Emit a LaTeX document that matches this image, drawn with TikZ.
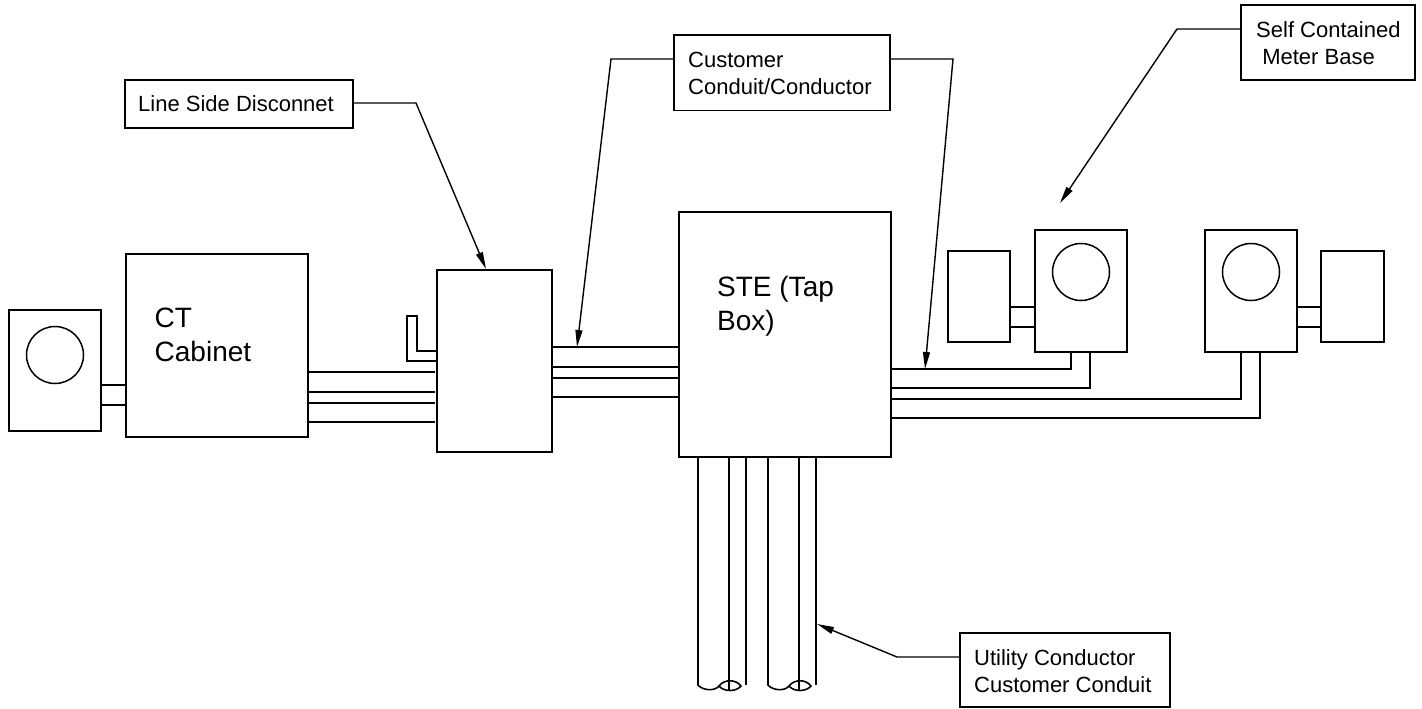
\documentclass[tikz,border=0pt]{standalone}
\usepackage{fontspec}
\setmainfont{Liberation Sans}
\usetikzlibrary{arrows.meta}
\tikzset{
  bx/.style 2 args={draw,line width=1.6pt,rectangle,minimum width=#1,minimum height=#2,inner sep=0pt,outer sep=0pt},
  dial/.style={draw,line width=1.5pt,circle,minimum size=57pt,inner sep=0pt,outer sep=0pt},
  wire/.style={line width=1.6pt},
  leader/.style={line width=1.4pt,-{Triangle[length=17pt,width=7pt]}},
  lbl/.style={font=\fontsize{22}{27}\selectfont,align=left,anchor=west,inner sep=0pt},
  big/.style={font=\fontsize{28}{34}\selectfont,align=left,anchor=west,inner sep=0pt}
}
\begin{document}
\begin{tikzpicture}[x=1pt,y=-1pt]
\useasboundingbox (0,0) rectangle (1422,709);
% main boxes
\node[bx={92pt}{121pt}] (mL) at (55,370.5) {};
\node[dial] (cL) at (55,355) {};
\node[bx={182pt}{183pt}] (ct) at (217,345.5) {};
\node[bx={115pt}{182pt}] (dis) at (494.5,361) {};
\node[bx={212pt}{245pt}] (ste) at (785,334.5) {};
\node[bx={62pt}{91pt}] (bA) at (979,296.5) {};
\node[bx={92pt}{122pt}] (mA) at (1081,291) {};
\node[dial] (cA) at (1081,272) {};
\node[bx={92pt}{122pt}] (mB) at (1251,291) {};
\node[dial] (cB) at (1251,272) {};
\node[bx={63pt}{91pt}] (bB) at (1352.5,296.5) {};
% labels in boxes
\node[big] (tct) at (154.5,335) {CT\\Cabinet};
\node[big] (tste) at (717,306) {STE (Tap\\Box)};
% callout boxes
\node[bx={228pt}{48pt}] (c1) at (239,104) {};
\node[lbl] (t1) at (138,104) {Line Side Disconnet};
\node[bx={216pt}{75.5pt}] (c2) at (782,72.75) {};
\node[lbl] (t2) at (688,73) {Customer\\Conduit/Conductor};
\node[bx={174pt}{75pt}] (c3) at (1328,42.5) {};
\node[lbl] (t3) at (1256,43) {Self Contained\\\ Meter Base};
\node[bx={210pt}{74pt}] (c4) at (1065,670) {};
\node[lbl] (t4) at (974,671) {Utility Conductor\\Customer Conduit};
% short links
\foreach \y in {385,405} \draw[wire] (mL.east |- 0,\y) -- (ct.west |- 0,\y);
\foreach \y in {307,327} {\draw[wire] (bA.east |- 0,\y) -- (mA.west |- 0,\y);
  \draw[wire] (mB.east |- 0,\y) -- (bB.west |- 0,\y);}
% CT to disconnect (stop short of the box)
\foreach \y in {372,392,403,422} \draw[wire] (ct.east |- 0,\y) -- (435,\y);
% L shape
\draw[wire] (dis.west |- 0,351) -- (417,351) -- (417,316) -- (407,316) -- (407,361) -- (dis.west |- 0,361);
% disconnect to STE
\foreach \y in {347,367,378,397} \draw[wire] (dis.east |- 0,\y) -- (ste.west |- 0,\y);
% STE to meters
\draw[wire] (ste.east |- 0,369) -| (mA.south -| 1071,0);
\draw[wire] (ste.east |- 0,388) -| (mA.south -| 1090,0);
\draw[wire] (ste.east |- 0,399) -| (mB.south -| 1241,0);
\draw[wire] (ste.east |- 0,418) -| (mB.south -| 1260,0);
% conduits below STE
\foreach \dx in {0,70} {
  \coordinate (p\dx) at (698+\dx,685);
  \draw[wire] (ste.south -| 698+\dx,0) -- (p\dx)
     .. controls (702+\dx,690) and (714+\dx,692) .. (719+\dx,686)
     .. controls (724+\dx,679) and (736+\dx,679) .. (741+\dx,686)
     .. controls (736+\dx,692) and (724+\dx,692) .. (719+\dx,686);
  \draw[wire] (ste.south -| 729+\dx,0) -- (729+\dx,690);
  \draw[wire] (ste.south -| 746+\dx,0) -- (746+\dx,685);
}
% leaders
\coordinate (a1) at (486,269);
\coordinate (a2) at (577,347);
\coordinate (a3) at (925,369);
\coordinate (a4) at (1060,203);
\coordinate (a5) at (817,624);
\draw[leader] (c1.east |- 0,103) -- (416,103) -- (a1);
\draw[leader] (c2.west |- 0,59) -- (611,59) -- (a2);
\draw[leader] (c2.east |- 0,59) -- (953,59) -- (a3);
\draw[leader] (c3.west |- 0,29) -- (1177,29) -- (a4);
\draw[leader] (c4.west |- 0,657) -- (897,657) -- (a5);
\end{tikzpicture}
\end{document}
